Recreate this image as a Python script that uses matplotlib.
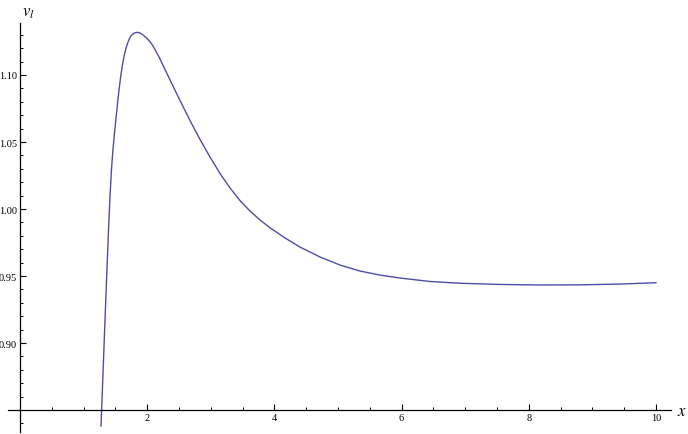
import numpy as np
import matplotlib
matplotlib.use("Agg")
import matplotlib.pyplot as plt
from matplotlib.ticker import FixedLocator

# curve
x_vals = [1.2736, 1.3050, 1.3365, 1.3679, 1.3915, 1.4151, 1.4387, 1.4623, 1.4858, 1.5094,
          1.5330, 1.5566, 1.5802, 1.6038, 1.6274, 1.6509, 1.6745, 1.6981, 1.7217, 1.7453,
          1.7689, 1.7925, 1.8160, 1.8396, 1.8632, 1.8868, 1.9340, 1.9811, 2.0283, 2.0755,
          2.1226, 2.1698, 2.2170, 2.2642, 2.3585, 2.5157, 2.6730, 2.8302, 2.9874, 3.1447,
          3.3019, 3.4591, 3.6164, 3.7736, 3.9308, 4.1667, 4.4025, 4.7170, 5.0314, 5.3459,
          5.6604, 5.9748, 6.4465, 6.9182, 7.5472, 8.1761, 8.8050, 9.4340, 10.0]
v_vals = [0.8381, 0.8776, 0.9172, 0.9560, 0.9843, 1.0097, 1.0299, 1.0448, 1.0567, 1.0679,
          1.0787, 1.0888, 1.0978, 1.1056, 1.1119, 1.1172, 1.1213, 1.1246, 1.1272, 1.1291,
          1.1304, 1.1312, 1.1316, 1.1318, 1.1317, 1.1313, 1.1299, 1.1280, 1.1257, 1.1228,
          1.1190, 1.1149, 1.1104, 1.1056, 1.0963, 1.0810, 1.0660, 1.0519, 1.0388, 1.0265,
          1.0157, 1.0063, 0.9985, 0.9918, 0.9860, 0.9784, 0.9716, 0.9642, 0.9582, 0.9537,
          0.9507, 0.9485, 0.9459, 0.9446, 0.9437, 0.9433, 0.9434, 0.9440, 0.9450]

x_major = [2, 4, 6, 8, 10]
y_major = [0.90, 0.95, 1.00, 1.05, 1.10]
y_labels = ["0.90", "0.95", "1.00", "1.05", "1.10"]

plt.rcParams['mathtext.fontset'] = 'stix'
fig = plt.figure(figsize=(6.88, 4.35), dpi=100)
ax = fig.add_axes([8/688, 2/435, 663/688, 409/435])
ax.set_xlim(-0.189, 10.236)
ax.set_ylim(0.8336, 1.1388)

ax.plot(x_vals, v_vals, color='#4d4da8', lw=1.0, solid_joinstyle='round')

for s in ['top', 'right']:
    ax.spines[s].set_visible(False)
ax.spines['left'].set_position(('data', 0))
ax.spines['bottom'].set_position(('data', 0.85))
for s in ['left', 'bottom']:
    ax.spines[s].set_linewidth(0.9)

ax.xaxis.set_major_locator(FixedLocator(x_major))
ax.xaxis.set_minor_locator(FixedLocator([v for v in np.arange(0.5, 10.01, 0.5) if v not in x_major]))
ax.yaxis.set_major_locator(FixedLocator(y_major))
ax.yaxis.set_minor_locator(FixedLocator([round(v, 2) for v in np.arange(0.84, 1.135, 0.01)
                                         if round(v, 2) not in y_major]))
ax.set_xticklabels([str(v) for v in x_major])
ax.set_yticklabels(y_labels)
ax.tick_params(which='major', direction='in', length=4.5, width=0.8,
               labelsize=7.5, pad=2)
ax.tick_params(which='minor', direction='in', length=2.5, width=0.7)
for lab in ax.get_xticklabels() + ax.get_yticklabels():
    lab.set_fontfamily('Liberation Serif')

fig.text(22/688, 1 - 12/435, r'$v_l$', fontsize=12, ha='left', va='center')
fig.text(677/688, 1 - 411/435, r'$x$', fontsize=12, ha='left', va='center')

fig.savefig('out.png', dpi=100)
